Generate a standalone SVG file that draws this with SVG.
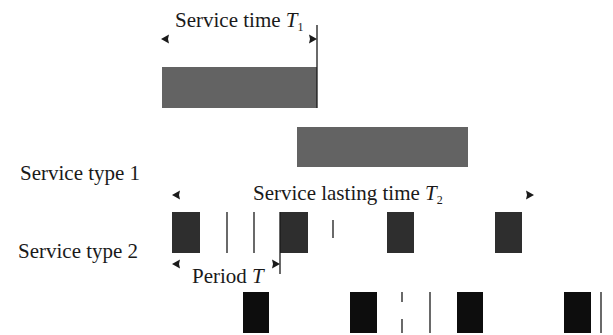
<svg xmlns="http://www.w3.org/2000/svg" width="613" height="335" viewBox="0 0 613 335">
<style>
text{font-family:"Liberation Serif","Times New Roman",serif;font-size:21px;fill:#1a1a1a}
.it{font-style:italic}
.sub{font-size:12px}
.g1{fill:#636363}
.g2{fill:#2e2e2e}
.g3{fill:#0d0d0d}
.ln{stroke:#1a1a1a;stroke-width:1.3;fill:none}
.ah{fill:#1a1a1a}
</style>
<rect width="613" height="335" fill="#ffffff"/>
<g id="labels">
<text x="175" y="27">Service time <tspan class="it">T</tspan><tspan class="sub" dy="4">1</tspan></text>
<text x="20" y="180">Service type 1</text>
<text x="18" y="258">Service type 2</text>
<text x="253" y="200">Service lasting time <tspan class="it">T</tspan><tspan class="sub" dy="4">2</tspan></text>
<text x="192" y="283">Period <tspan class="it">T</tspan></text>
</g>
<g id="type1">
<rect class="g1" x="162" y="67" width="155" height="41"/>
<rect class="g1" x="297" y="127" width="171" height="40"/>
</g>
<g id="type2-row1">
<rect class="g2" x="172" y="212" width="28" height="41"/>
<rect class="g2" x="280" y="212" width="28" height="41"/>
<rect class="g2" x="387" y="212" width="27" height="41"/>
<rect class="g2" x="495" y="212" width="27" height="41"/>
</g>
<g id="type2-row2">
<rect class="g3" x="243" y="292" width="26" height="41"/>
<rect class="g3" x="350" y="292" width="27" height="41"/>
<rect class="g3" x="457" y="292" width="26" height="41"/>
<rect class="g3" x="564" y="292" width="27" height="41"/>
</g>
<g id="connectors">
<line class="ln" x1="317" y1="25" x2="317" y2="108"/>
<line class="ln" x1="280" y1="212" x2="280" y2="274"/>
<line class="ln" x1="227" y1="212" x2="227" y2="253"/>
<line class="ln" x1="254" y1="212" x2="254" y2="253"/>
<line class="ln" x1="333" y1="220" x2="333" y2="238"/>
<line class="ln" x1="402" y1="292" x2="402" y2="302"/>
<line class="ln" x1="402" y1="319" x2="402" y2="333"/>
<line class="ln" x1="430" y1="292" x2="430" y2="333"/>
<line class="ln" x1="601" y1="292" x2="601" y2="333" stroke="#555"/>
<polygon class="ah" points="161,39 169,34.5 168,39 169,43.5"/>
<polygon class="ah" points="317,39 309,34.5 310,39 309,43.5"/>
<polygon class="ah" points="172,195 180,190.5 179,195 180,199.5"/>
<polygon class="ah" points="534,195 526,190.5 527,195 526,199.5"/>
<polygon class="ah" points="172,264 180,259.5 179,264 180,268.5"/>
<polygon class="ah" points="280,264 272,259.5 273,264 272,268.5"/>
</g>
</svg>
